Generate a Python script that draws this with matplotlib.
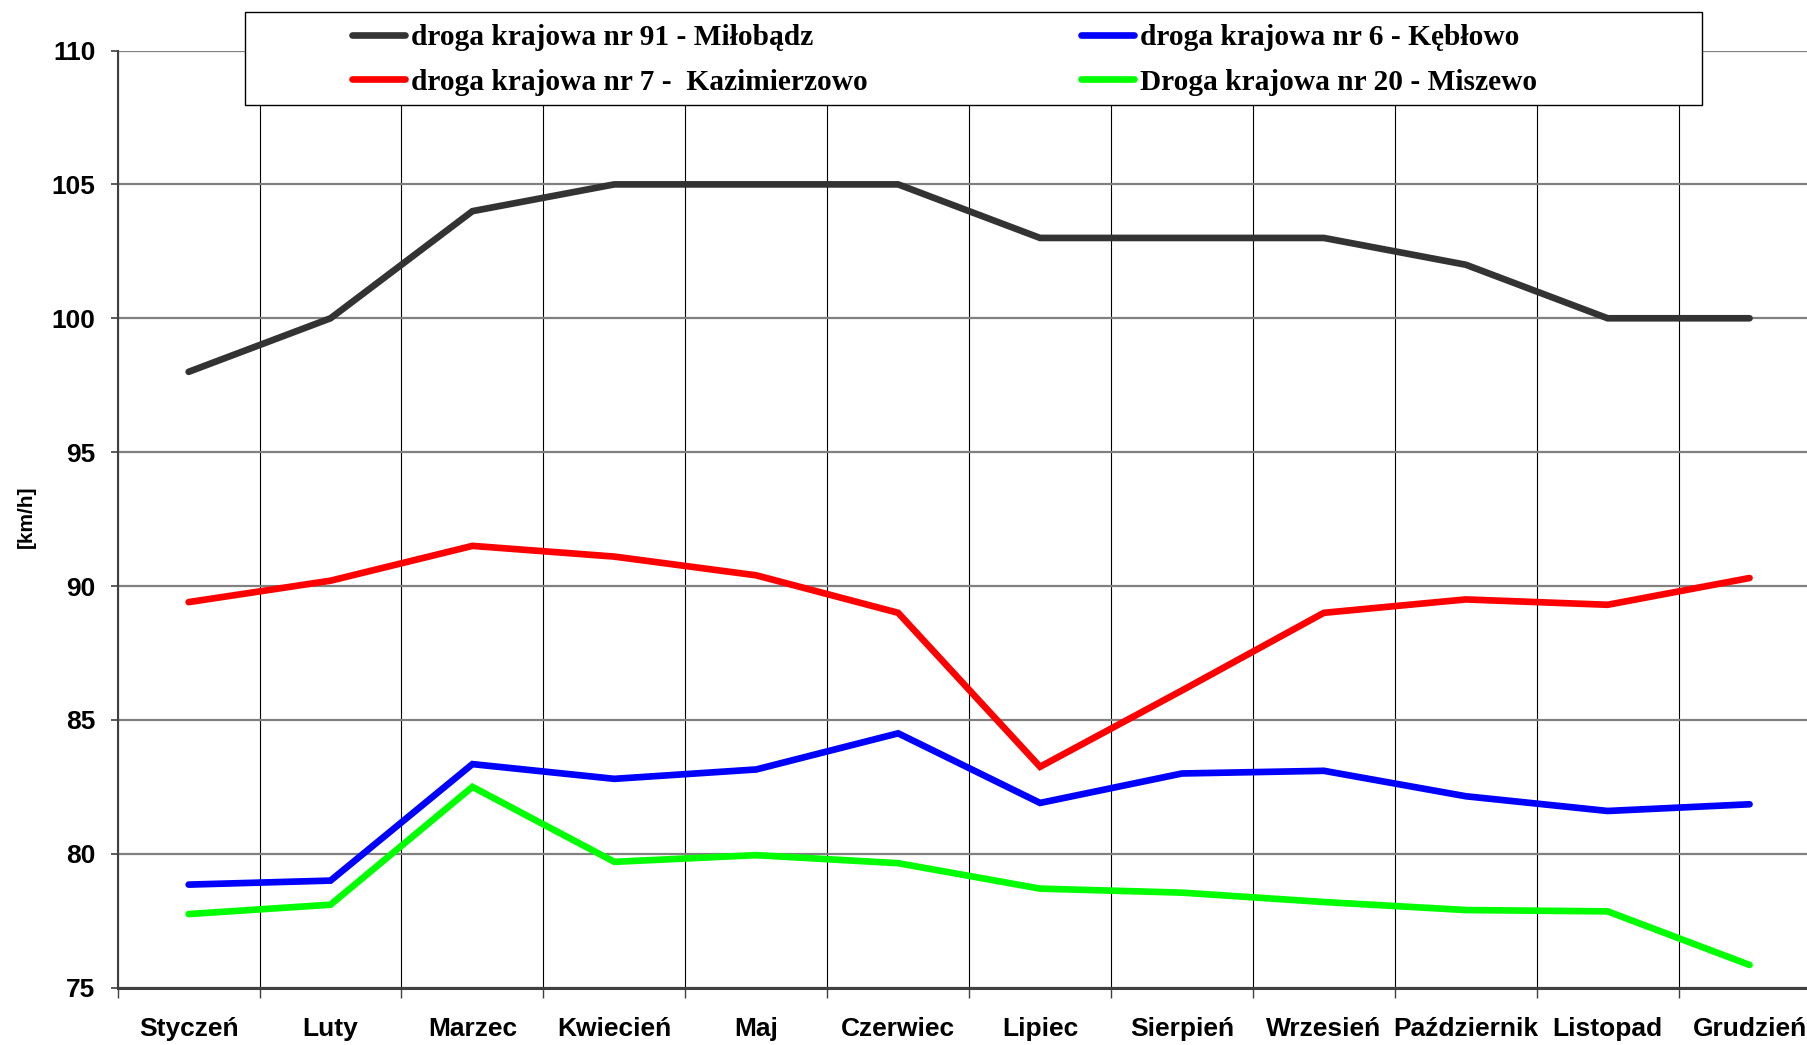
#average monthly speed on national roads, 4 measuring points
import numpy as np
import matplotlib
matplotlib.use('Agg')
import matplotlib.pyplot as plt
from matplotlib.patches import Rectangle

months=['Styczeń','Luty','Marzec','Kwiecień','Maj','Czerwiec','Lipiec','Sierpień','Wrzesień','Październik','Listopad','Grudzień']

dk91=[98.0,100.0,104.0,105.0,105.0,105.0,103.0,103.0,103.0,102.0,100.0,100.0]
dk7=[89.4,90.2,91.5,91.1,90.4,89.0,83.25,86.1,89.0,89.5,89.3,90.3]
dk6=[78.85,79.0,83.35,82.8,83.15,84.5,81.9,83.0,83.1,82.15,81.6,81.85]
dk20=[77.75,78.1,82.5,79.7,79.95,79.65,78.7,78.55,78.2,77.9,77.85,75.85]

labels=['droga krajowa nr 91 - Miłobądz','droga krajowa nr 7 -  Kazimierzowo',
        'droga krajowa nr 6 - Kębłowo','Droga krajowa nr 20 - Miszewo']
colors=['#333333','#ff0000','#0000ff','#00ff00']

W,H=1807,1045
fig=plt.figure(figsize=(W/100.,H/100.),dpi=100)
ax=fig.add_axes([117.7/W,57.3/H,1702.8/W,937.2/H])

x=np.arange(len(months))
lines=[]
for yy,c in zip([dk91,dk7,dk6,dk20],colors):
    l,=ax.plot(x,yy,'-',color=c,lw=4.8,solid_capstyle='round',solid_joinstyle='miter',zorder=3)
    lines.append(l)

ax.set_xlim(-0.5,11.5)
ax.set_ylim(75,110)
ax.set_yticks(np.arange(75,111,5))
ax.set_xticks(np.arange(-0.5,12,1))
ax.set_xticklabels([])
ax.set_xticks(x,months,minor=True)
ax.tick_params(axis='x',which='minor',length=0,pad=21)
ax.tick_params(axis='x',which='major',length=7,width=1,color='#404040',direction='out')
ax.tick_params(axis='y',length=5,width=1.2,color='#404040',direction='out',pad=11)
for lab in ax.get_xticklabels(minor=True)+ax.get_yticklabels():
    lab.set_fontfamily('Liberation Sans')
    lab.set_fontweight('bold')
    lab.set_fontsize(19)

ax.grid(axis='y',color='#808080',lw=1.6,zorder=1)
ax.grid(axis='x',which='major',color='#000000',lw=0.8,zorder=1)
ax.set_axisbelow(True)
for s in ['top','right']:
    ax.spines[s].set_visible(False)
ax.spines['left'].set_color('#404040')
ax.spines['left'].set_linewidth(1.5)
ax.spines['bottom'].set_color('#404040')
ax.spines['bottom'].set_linewidth(2.2)

ax.set_ylabel('[km/h]',fontfamily='Liberation Sans',fontweight='bold',fontsize=15,va='center')
ax.yaxis.set_label_coords((26-117.7)/1702.8,(987.7-517)/937.2)

#legend box drawn by hand, the entries sit off-centre inside it
fig.patches.append(Rectangle((245/W,1-105/H),(1702-245)/W,(105-12)/H,transform=fig.transFigure,
    facecolor='white',edgecolor='black',lw=1,zorder=4))
lprop={'family':'Liberation Serif','weight':'bold','size':21.2}
kw=dict(loc='upper left',frameon=False,borderpad=0,borderaxespad=0,handlelength=1.8,
        handletextpad=0.2,labelspacing=0.6,prop=lprop)
fig.legend(lines[:2],labels[:2],bbox_to_anchor=(352/W,1-24/H),**kw)
fig.legend(lines[2:],labels[2:],bbox_to_anchor=(1081/W,1-24/H),**kw)

plt.savefig('out.png',dpi=100)
